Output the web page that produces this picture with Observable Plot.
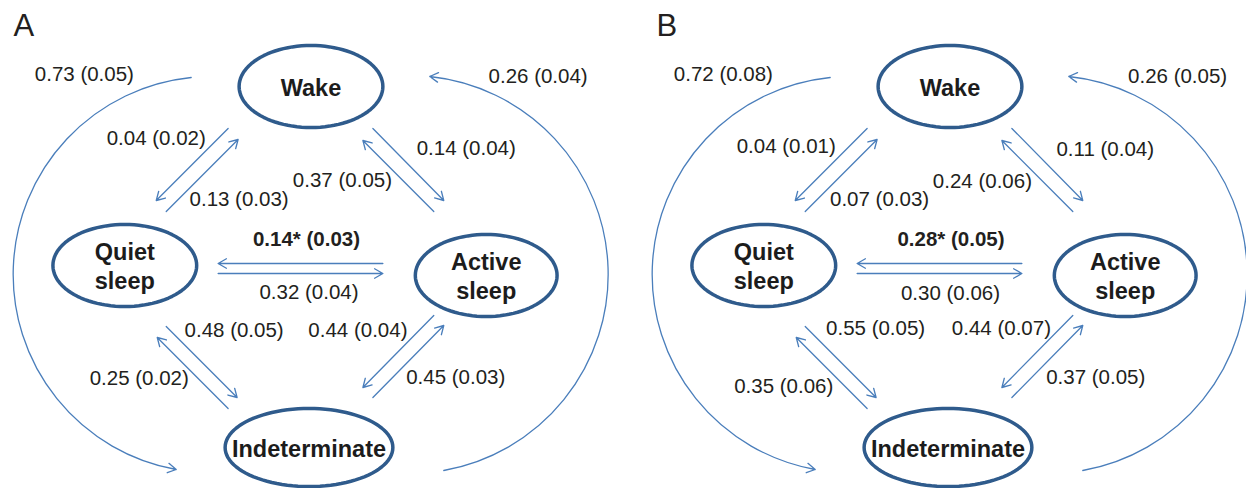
<!DOCTYPE html>
<html><head><meta charset="utf-8">
<script src="https://cdn.jsdelivr.net/npm/d3@7"></script>
<script src="https://cdn.jsdelivr.net/npm/@observablehq/plot@0.6"></script>
<style>body{margin:0;background:#fff;} svg{display:block}</style>
</head><body><div id="chart"></div>
<script>
// ---- data ----
const panels = ["A", "B"];
const states = ["Wake", "Quiet sleep", "Active sleep", "Indeterminate"];
const stateLabels = ["Wake", "Quiet\nsleep", "Active\nsleep", "Indeterminate"];
const fromState = ["Wake","Quiet sleep","Wake","Active sleep","Active sleep","Quiet sleep","Quiet sleep","Indeterminate","Active sleep","Indeterminate","Wake","Indeterminate"];
const toState   = ["Quiet sleep","Wake","Active sleep","Wake","Quiet sleep","Active sleep","Indeterminate","Quiet sleep","Indeterminate","Active sleep","Indeterminate","Wake"];
const probA = [0.04, 0.13, 0.14, 0.37, 0.14, 0.32, 0.48, 0.25, 0.44, 0.45, 0.73, 0.26];
const seA   = [0.02, 0.03, 0.04, 0.05, 0.03, 0.04, 0.05, 0.02, 0.04, 0.03, 0.05, 0.04];
const probB = [0.04, 0.07, 0.11, 0.24, 0.28, 0.30, 0.55, 0.35, 0.44, 0.37, 0.72, 0.26];
const seB   = [0.01, 0.03, 0.04, 0.06, 0.05, 0.06, 0.05, 0.06, 0.07, 0.05, 0.08, 0.05];
const significant = [false,false,false,false,true,false,false,false,false,false,false,false];

// ---- layout (diagram geometry, in panel pixel units) ----
const nodeLayout = {
  "Wake":          {cx: 310,   cy: 86,  rx: 72, ry: 41},
  "Quiet sleep":   {cx: 123.5, cy: 265, rx: 72, ry: 41},
  "Active sleep":  {cx: 485.5, cy: 275, rx: 71, ry: 41},
  "Indeterminate": {cx: 308,   cy: 447, rx: 84, ry: 39}
};
const edgeLayout = [
  {x1: 227, y1: 128, x2: 155, y2: 200, curved: false},
  {x1: 165, y1: 211, x2: 237, y2: 139, curved: false},
  {x1: 372, y1: 128, x2: 443, y2: 200, curved: false},
  {x1: 433, y1: 211, x2: 362, y2: 140, curved: false},
  {x1: 382, y1: 263, x2: 217, y2: 263, curved: false},
  {x1: 217, y1: 273, x2: 382, y2: 273, curved: false},
  {x1: 165, y1: 326, x2: 236, y2: 397, curved: false},
  {x1: 227, y1: 408, x2: 156, y2: 337, curved: false},
  {x1: 433, y1: 315, x2: 362, y2: 387, curved: false},
  {x1: 372, y1: 397, x2: 443, y2: 325, curved: false},
  {x1: 190, y1: 77,  x2: 175, y2: 469, curved: true},
  {x1: 443, y1: 470, x2: 429, y2: 76,  curved: true}
];
const labelLayout = {
  A: [[155,138],[238,199],[465.5,148],[341.5,180],[305.5,239],[308,292],[233,330],[138,378],[357,330],[455,377],[83,74],[537.5,76]],
  B: [[146,146],[239.5,199],[465.5,149],[342.5,181],[311,239],[310.5,293],[235.5,328],[143.5,386],[361.5,328],[456,377],[83,74],[538,76]]
};
const letterX = {A: 12, B: 16};

// ---- build tables ----
const probs = {A: probA, B: probB};
const ses = {A: seA, B: seB};
const ellipsePts = [];
const nodeRows = [];
for (const panel of panels) {
  states.forEach((s, k) => {
    const n = nodeLayout[s];
    for (let t = 0; t < 96; t++) {
      const a = (t / 96) * 2 * Math.PI;
      ellipsePts.push({panel, key: panel + s, x: n.cx + n.rx * Math.cos(a), y: n.cy + n.ry * Math.sin(a)});
    }
    nodeRows.push({panel, x: n.cx, y: n.cy, label: stateLabels[k]});
  });
}
const edgeRows = [];
for (const panel of panels) {
  fromState.forEach((f, i) => {
    const e = edgeLayout[i];
    const [lx, ly] = labelLayout[panel][i];
    edgeRows.push({
      panel, from: f, to: toState[i], ...e, lx, ly,
      sig: significant[i],
      text: `${probs[panel][i].toFixed(2)}${significant[i] ? "*" : ""} (${ses[panel][i].toFixed(2)})`
    });
  });
}
const letterRows = panels.map(p => ({panel: p, x: letterX[p], text: p}));

const arrowColor = "#4a7ebb";
const chart = Plot.plot({
  width: 1246, height: 488,
  marginTop: 0, marginRight: 0, marginBottom: 0, marginLeft: 0,
  x: {domain: [0, 606], axis: null},
  y: {domain: [0, 488], reverse: true, axis: null},
  fx: {domain: panels, paddingInner: 0.0531, paddingOuter: 0, axis: null, label: null},
  style: {fontFamily: "'Liberation Sans', Arial, sans-serif", background: "#fff", overflow: "visible"},
  marks: [
    Plot.line(ellipsePts, {x: "x", y: "y", z: "key", fx: "panel", stroke: "#2f5b8c", strokeWidth: 3.5, curve: "linear-closed"}),
    Plot.arrow(edgeRows.filter(d => !d.curved), {x1: "x1", y1: "y1", x2: "x2", y2: "y2", fx: "panel", stroke: arrowColor, strokeWidth: 1.3, headLength: 11, headAngle: 60}),
    Plot.arrow(edgeRows.filter(d => d.curved), {x1: "x1", y1: "y1", x2: "x2", y2: "y2", fx: "panel", bend: -82, stroke: arrowColor, strokeWidth: 1.3, headLength: 11, headAngle: 60}),
    Plot.text(nodeRows, {x: "x", y: "y", text: "label", fx: "panel", fontWeight: "bold", fontSize: 23.5, lineHeight: 1.22, fill: "#1c1c1c"}),
    Plot.text(edgeRows.filter(d => !d.sig), {x: "lx", y: "ly", text: "text", fx: "panel", fontSize: 20.5, fill: "#231f20"}),
    Plot.text(edgeRows.filter(d => d.sig), {x: "lx", y: "ly", text: "text", fx: "panel", fontSize: 20.5, fontWeight: "bold", fill: "#231f20"}),
    Plot.text(letterRows, {x: "x", y: () => 26, text: "text", fx: "panel", textAnchor: "start", fontSize: 31, fill: "#231f20"})
  ]
});
document.getElementById("chart").appendChild(chart);
</script>
</body></html>
